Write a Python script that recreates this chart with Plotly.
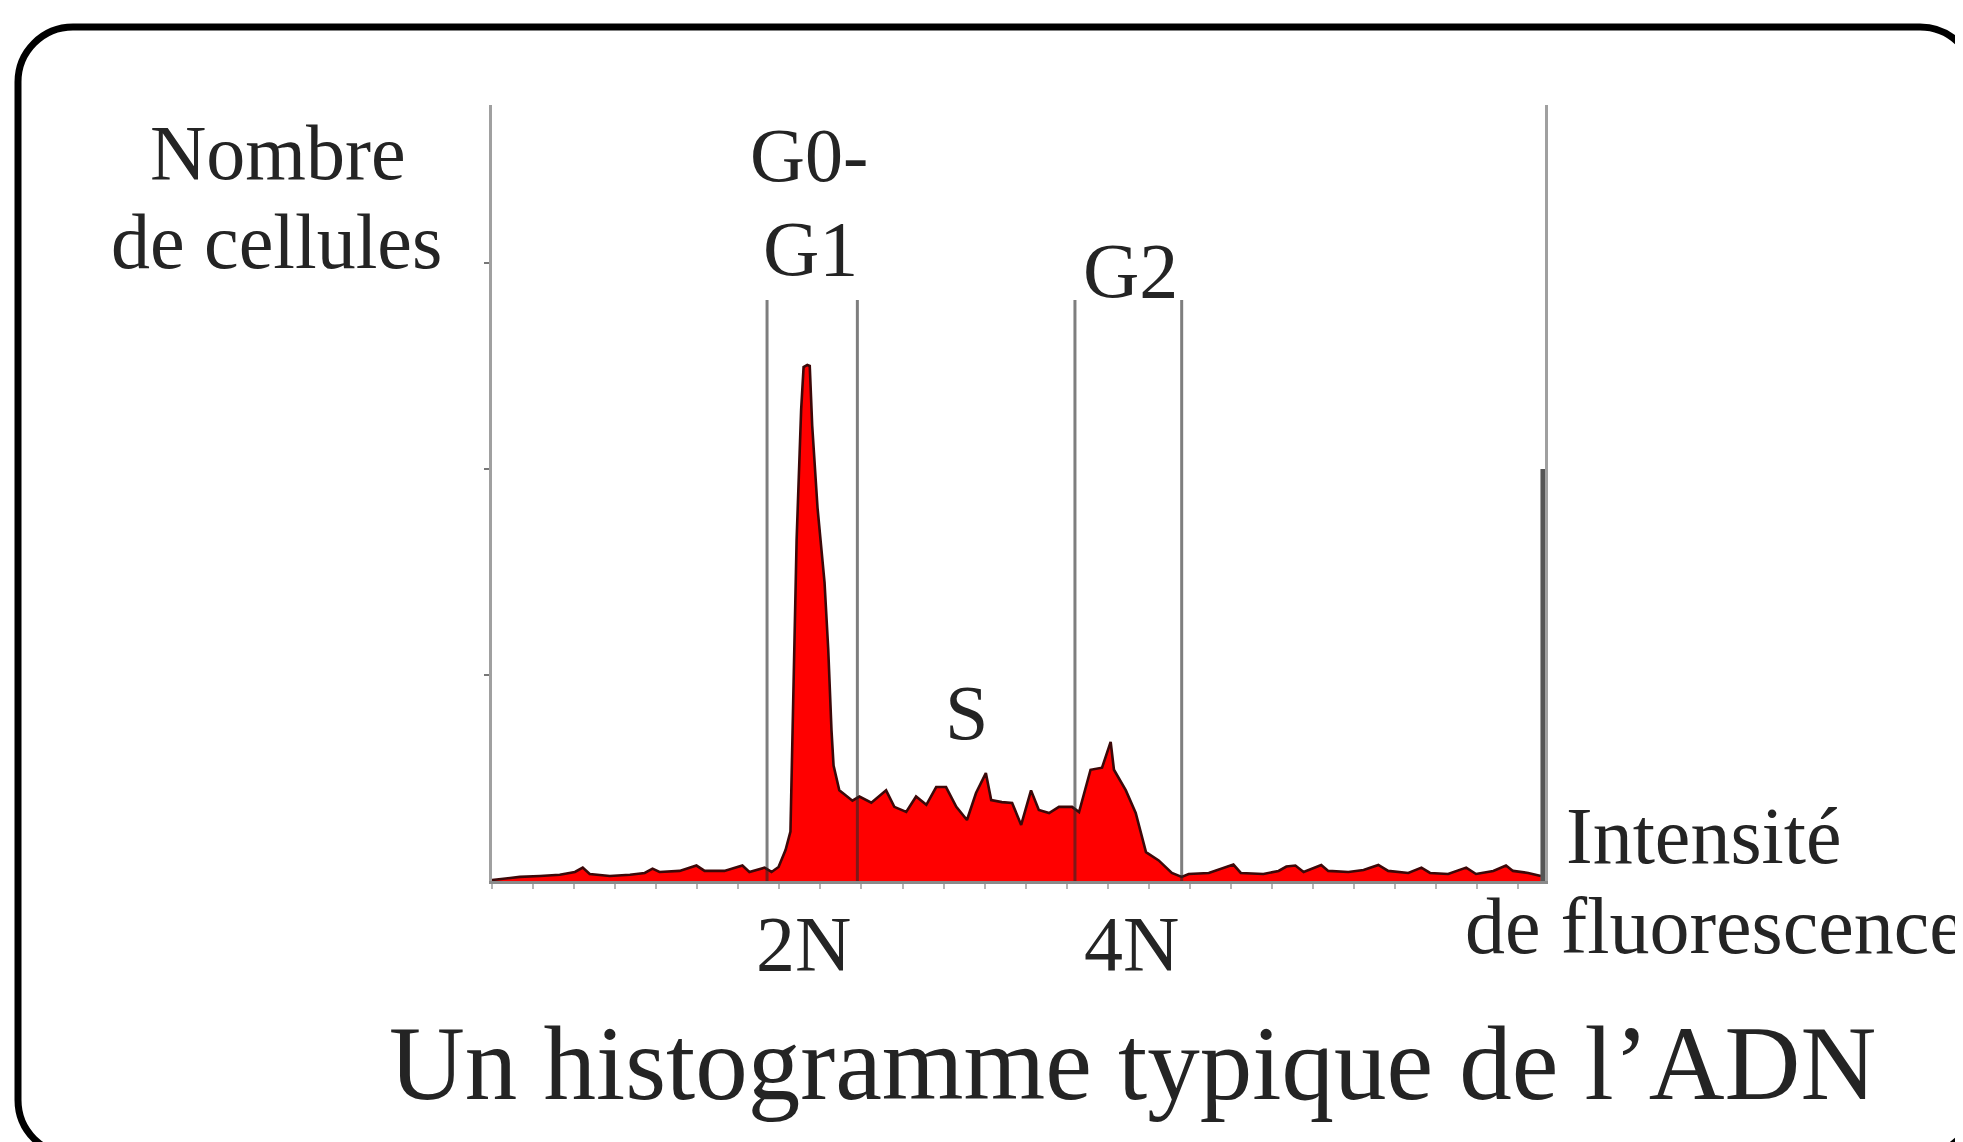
import plotly.graph_objects as go

# ---------------- data ----------------
# DNA histogram outline: fluorescence channel vs number of cells
hist_channel = [0, 6.8, 11.7, 16.5, 20.2, 22.1, 23.8, 28.7, 33.6, 37.2, 39.1, 40.8, 45.7,
                49.8, 51.8, 56.6, 61.0, 62.7, 66.4, 68.1, 69.8, 71.5, 72.7, 73.4, 74.2,
                75.3, 75.9, 76.8, 77.4, 78.0, 79.3, 81.0, 81.9, 82.7, 83.2, 84.6, 87.8,
                89.5, 92.4, 96.0, 98.0, 100.9, 103.3, 105.8, 108.2, 110.6, 113.1, 115.7,
                117.9, 120.3, 121.6, 124.2, 126.7, 128.9, 131.3, 133.2, 135.7, 138.1,
                141.3, 143.0, 145.8, 148.6, 150.7, 151.5, 154.4, 156.8, 159.3, 162.4,
                165.6, 168.0, 169.7, 174.6, 180.6, 182.4, 187.9, 191.6, 193.5, 195.7,
                197.7, 202.0, 203.7, 208.6, 212.3, 215.9, 218.3, 223.2, 226.4, 228.5,
                232.9, 237.3, 239.7, 243.9, 247.0, 248.7, 252.4, 255.5]
hist_count = [0.5, 2, 2.4, 3, 4.4, 6.5, 3.4, 2.4, 3, 3.9, 6.0, 4.4, 4.9,
              7.5, 4.9, 4.9, 7.5, 4.4, 6.5, 4.4, 6.8, 15, 24, 95, 165.5,
              228.6, 249.5, 250.5, 250, 221, 181, 145, 112.6, 73, 56, 44, 39,
              41, 38, 44, 36, 33.5, 41, 37, 45.6, 45.6, 36, 29.6,
              42.7, 52.4, 39.3, 38.3, 37.9, 27.2, 44, 34.5, 33, 36,
              36, 33.5, 54, 55, 67.5, 54, 44, 33, 14, 10,
              3.9, 2, 3.4, 3.9, 8.0, 3.9, 3.4, 4.9, 7.0, 7.5,
              4.4, 7.8, 4.9, 4.4, 5.3, 7.8, 4.9, 3.9, 6.5, 3.9,
              3.4, 6.5, 3.4, 4.9, 7.5, 4.9, 3.9, 2.4]

# gate markers (G0-G1 and G2 regions)
gate_channels = [67, 89, 142, 168]
gate_height = 282

# overflow (last channel) bin
overflow_channel = 256
overflow_count = 200

y_tick_values = [100, 200, 300]

# ---------------- text ----------------
y_label_lines = ["Nombre", "de cellules"]
x_label_lines = ["Intensité", "de fluorescence"]
phase_labels = ["G0-", "G1", "G2", "S"]
ploidy_labels = ["2N", "4N"]
title_text = "Un histogramme typique de l’ADN"

# ---------------- layout geometry ----------------
W, H = 1963, 1142
OFF = 8                      # page offset of the figure inside the window
PL, PR, PT, PB = 492, 1545, 105, 881   # plot area in window pixels
plot_w = PR - PL
plot_h = PB - PT

FONT = "Liberation Serif"
TXT = "#242424"


def px_x(x):
    return (x - PL) / plot_w


def px_y(y):
    return (PB - y) / plot_h


fig = go.Figure()

fig.add_trace(go.Scatter(
    x=hist_channel, y=hist_count, mode="lines", fill="tozeroy",
    fillcolor="#ff0000", line=dict(color="#3c0808", width=2.6),
    hoverinfo="skip"))

gx, gy = [], []
for g in gate_channels:
    gx += [g, g, None]
    gy += [0, gate_height, None]
fig.add_trace(go.Scatter(x=gx, y=gy, mode="lines",
                         line=dict(color="rgba(40,40,40,0.6)", width=3),
                         hoverinfo="skip"))

fig.add_trace(go.Scatter(x=[overflow_channel, overflow_channel], y=[0, overflow_count],
                         mode="lines", line=dict(color="#555555", width=5),
                         hoverinfo="skip"))


def label(text, cx, baseline, size, anchor="center"):
    fig.add_annotation(text=text, xref="paper", yref="paper",
                       x=px_x(cx), y=px_y(baseline + 0.22 * size + 2),
                       xanchor=anchor, yanchor="bottom", showarrow=False,
                       font=dict(family=FONT, size=size, color=TXT))


label(y_label_lines[0], 278, 179, 78)
label(y_label_lines[1], 276, 268, 78)
label(phase_labels[0], 809, 180, 76)
label(phase_labels[1], 810, 275, 78)
label(phase_labels[2], 1130, 297, 78)
label(phase_labels[3], 966, 739, 78)
label(ploidy_labels[0], 803, 970, 78)
label(ploidy_labels[1], 1131, 970, 78)
label(x_label_lines[0], 1564, 862, 80, anchor="left")
label(x_label_lines[1], 1463, 952, 80, anchor="left")
label(title_text, 1132, 1099, 105)


# rounded frame
def rr_path(x0, y0, x1, y1, r):
    k = 0.5523 * r
    pts = [
        ("M", [(x0 + r, y0)]),
        ("L", [(x1 - r, y0)]),
        ("C", [(x1 - r + k, y0), (x1, y0 + r - k), (x1, y0 + r)]),
        ("L", [(x1, y1 - r)]),
        ("C", [(x1, y1 - r + k), (x1 - r + k, y1), (x1 - r, y1)]),
        ("L", [(x0 + r, y1)]),
        ("C", [(x0 + r - k, y1), (x0, y1 - r + k), (x0, y1 - r)]),
        ("L", [(x0, y0 + r)]),
        ("C", [(x0, y0 + r - k), (x0 + r - k, y0), (x0 + r, y0)]),
    ]
    s = ""
    for cmd, ps in pts:
        s += cmd + " " + " ".join(f"{px_x(a):.5f},{px_y(b):.5f}" for a, b in ps) + " "
    return s + "Z"


fig.add_shape(type="path", xref="paper", yref="paper",
              path=rr_path(18, 27, 1975, 1155, 55),
              line=dict(color="black", width=7), layer="above")

fig.update_layout(
    width=W, height=H,
    margin=dict(l=PL - OFF, r=W - (PR - OFF), t=PT - OFF, b=H - (PB - OFF),
                autoexpand=False),
    paper_bgcolor="white", plot_bgcolor="white", showlegend=False,
    hovermode=False,
    xaxis=dict(range=[0, 256.5], showgrid=False, zeroline=False, showline=True,
               linecolor="#8a8a8a", linewidth=3, ticks="outside", ticklen=5,
               tickcolor="#b5b5b5", tickwidth=1.5, dtick=10, tick0=0,
               showticklabels=False),
    yaxis=dict(range=[0, 376.7], showgrid=False, zeroline=False, showline=True,
               linecolor="#a0a0a0", linewidth=3, mirror=True, ticks="outside",
               ticklen=5, tickcolor="#777777", tickwidth=2,
               tickvals=y_tick_values, showticklabels=False),
)

fig.write_html("out.html", config={"displayModeBar": False})
